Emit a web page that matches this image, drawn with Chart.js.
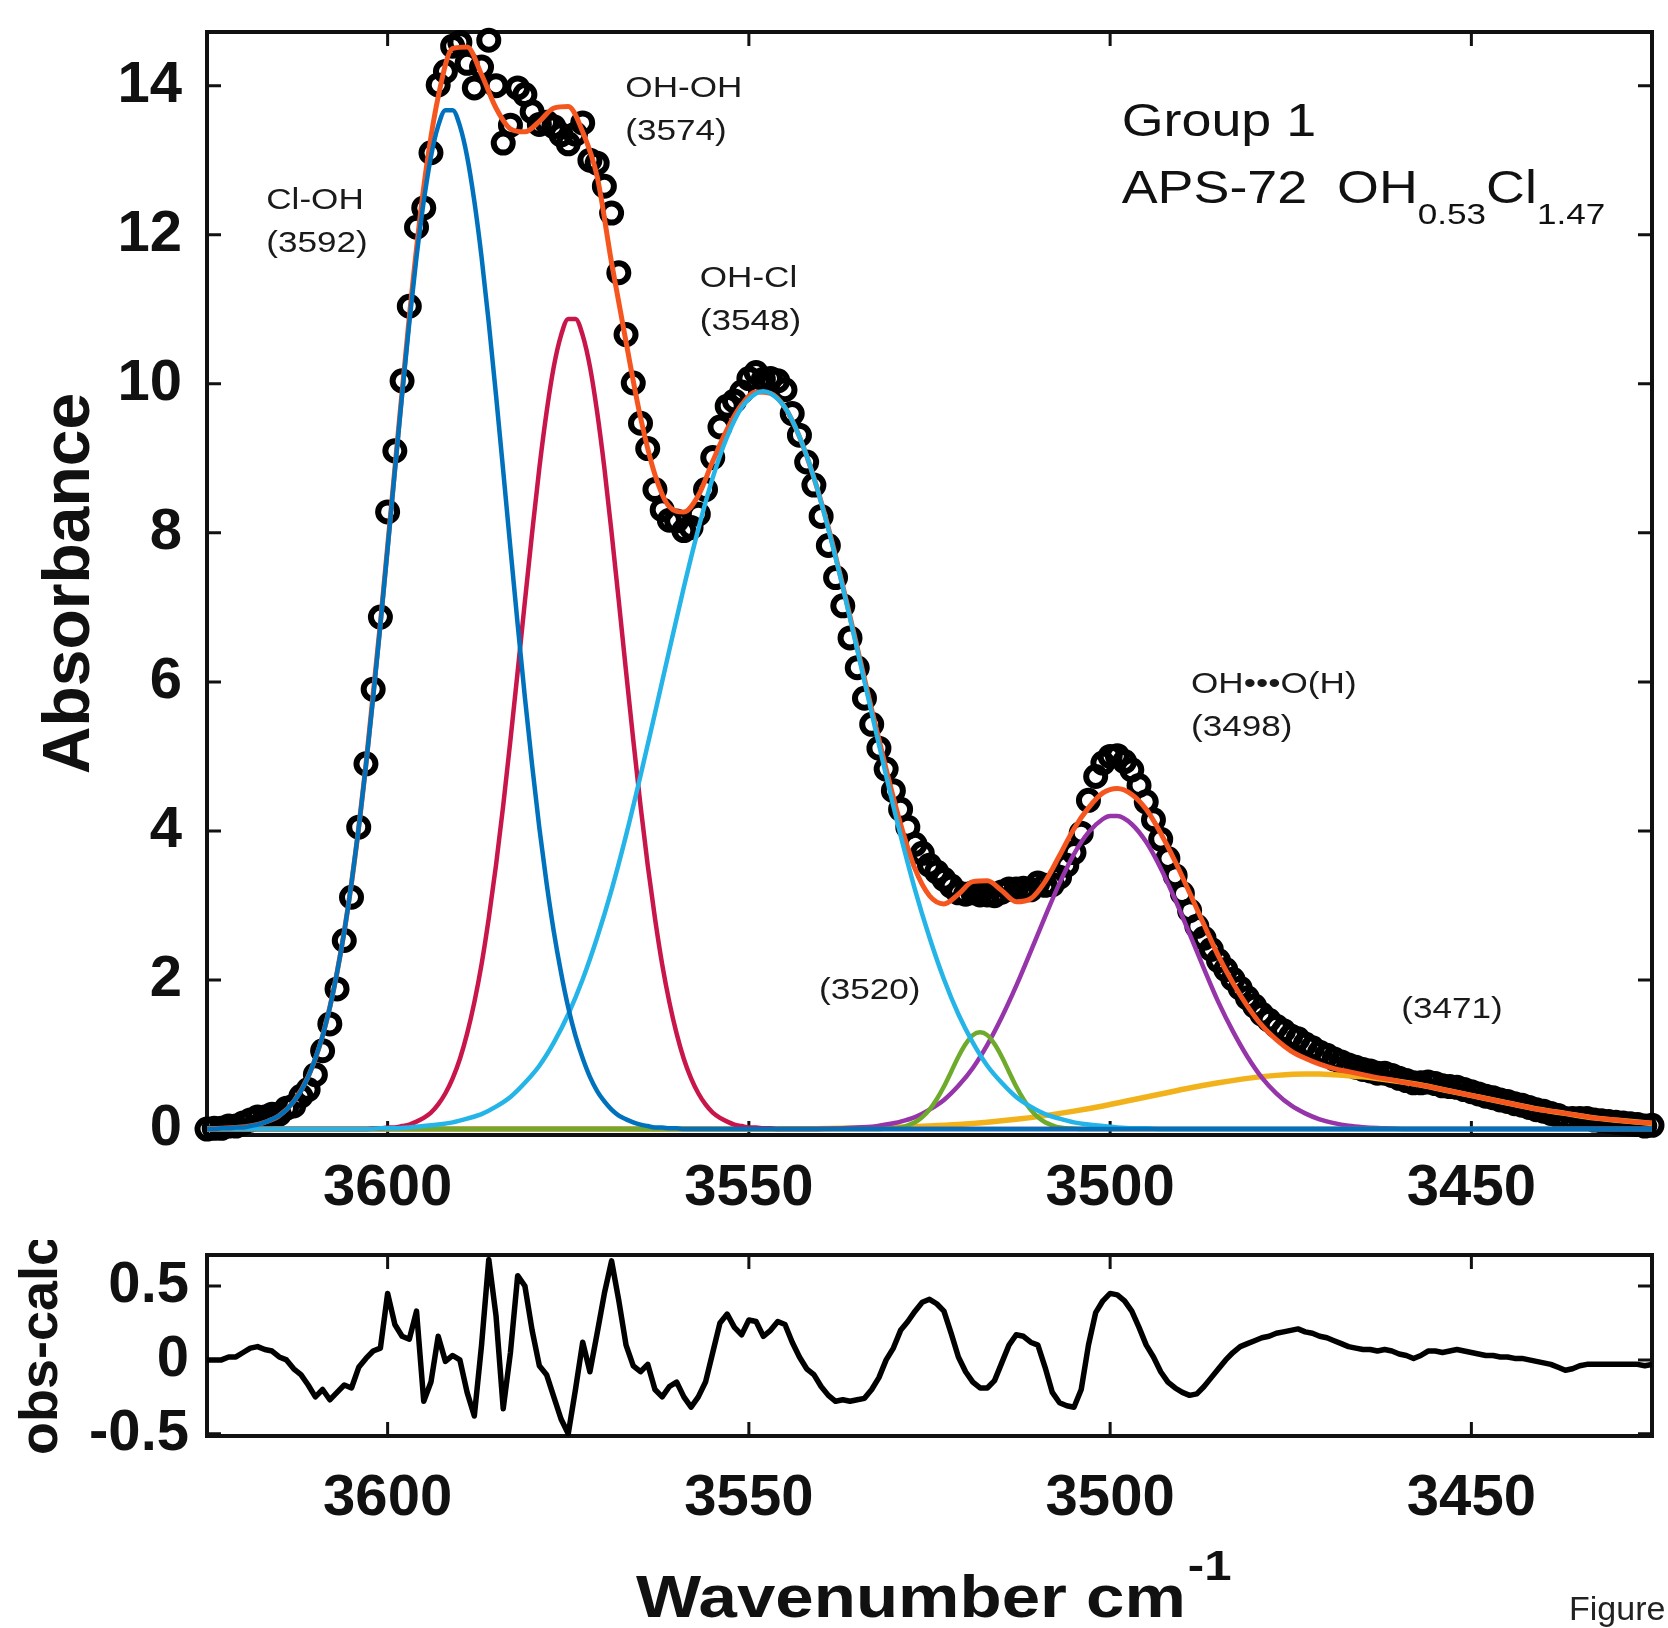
<!DOCTYPE html>
<html>
<head>
<meta charset="utf-8">
<script src="https://cdn.jsdelivr.net/npm/chart.js@4.4.1/dist/chart.umd.min.js"></script>
<style>
html,body{margin:0;padding:0;background:#fff;}
#wrap{position:relative;width:1668px;height:1628px;overflow:hidden;background:#fff;}
#main{position:absolute;left:0;top:0;}
#resid{position:absolute;left:0;top:1240px;}
</style>
</head>
<body>
<div id="wrap">
<canvas id="main" width="1668" height="1240"></canvas>
<canvas id="resid" width="1668" height="388"></canvas>
</div>
<script>
// ---------------- DATA ----------------
// observed spectrum grid (cm-1)
const wavenumber = [
3625,3624,3623,3622,3621,3620,3619,3618,3617,3616,
3615,3614,3613,3612,3611,3610,3609,3608,3607,3606,
3605,3604,3603,3602,3601,3600,3599,3598,3597,3596,
3595,3594,3593,3592,3591,3590,3589,3588,3587,3586,
3585,3584,3583,3582,3581,3580,3579,3578,3577,3576,
3575,3574,3573,3572,3571,3570,3569,3568,3567,3566,
3565,3564,3563,3562,3561,3560,3559,3558,3557,3556,
3555,3554,3553,3552,3551,3550,3549,3548,3547,3546,
3545,3544,3543,3542,3541,3540,3539,3538,3537,3536,
3535,3534,3533,3532,3531,3530,3529,3528,3527,3526,
3525,3524,3523,3522,3521,3520,3519,3518,3517,3516,
3515,3514,3513,3512,3511,3510,3509,3508,3507,3506,
3505,3504,3503,3502,3501,3500,3499,3498,3497,3496,
3495,3494,3493,3492,3491,3490,3489,3488,3487,3486,
3485,3484,3483,3482,3481,3480,3479,3478,3477,3476,
3475,3474,3473,3472,3471,3470,3469,3468,3467,3466,
3465,3464,3463,3462,3461,3460,3459,3458,3457,3456,
3455,3454,3453,3452,3451,3450,3449,3448,3447,3446,
3445,3444,3443,3442,3441,3440,3439,3438,3437,3436,
3435,3434,3433,3432,3431,3430,3429,3428,3427,3426,
3425];

// observed absorbance (open circles)
const observed = [
0.00,0.01,0.01,0.04,0.04,0.08,0.12,0.16,0.16,0.20,
0.20,0.28,0.31,0.44,0.53,0.73,1.05,1.41,1.88,2.53,
3.11,4.05,4.90,5.90,6.87,8.28,9.10,10.04,11.04,12.10,
12.36,13.10,14.01,14.19,14.53,14.58,14.30,13.97,14.25,14.61,
14.00,13.23,13.47,13.97,13.88,13.65,13.48,13.51,13.45,13.34,
13.22,13.35,13.50,13.00,12.96,12.65,12.29,11.49,10.66,10.01,
9.47,9.13,8.58,8.31,8.17,8.16,8.03,8.07,8.25,8.58,
9.01,9.42,9.70,9.77,9.89,10.07,10.15,10.06,10.07,10.04,
9.92,9.60,9.31,8.95,8.64,8.22,7.83,7.40,7.02,6.59,
6.19,5.78,5.43,5.11,4.83,4.54,4.29,4.05,3.82,3.70,
3.54,3.45,3.35,3.26,3.17,3.15,3.17,3.14,3.14,3.13,
3.18,3.22,3.22,3.23,3.21,3.30,3.27,3.28,3.38,3.54,
3.71,3.97,4.41,4.73,4.91,5.00,5.01,4.93,4.82,4.61,
4.39,4.15,3.89,3.63,3.40,3.16,2.93,2.72,2.56,2.41,
2.26,2.14,2.01,1.89,1.76,1.65,1.54,1.46,1.38,1.32,
1.25,1.21,1.14,1.09,1.03,0.99,0.94,0.90,0.86,0.83,
0.80,0.78,0.75,0.75,0.72,0.68,0.65,0.62,0.62,0.63,
0.61,0.58,0.57,0.56,0.53,0.50,0.47,0.44,0.42,0.39,
0.37,0.34,0.32,0.29,0.26,0.24,0.21,0.18,0.14,0.14,
0.14,0.14,0.12,0.11,0.10,0.09,0.08,0.07,0.06,0.04,
0.05];

// obs - calc
const residual = [
0.00,0.00,0.00,0.02,0.02,0.05,0.08,0.09,0.07,0.06,
0.02,0.00,-0.06,-0.10,-0.17,-0.25,-0.20,-0.27,-0.22,-0.17,
-0.19,-0.05,0.01,0.06,0.08,0.45,0.24,0.16,0.14,0.33,
-0.28,-0.15,0.16,-0.01,0.03,0.00,-0.22,-0.38,0.10,0.68,
0.30,-0.33,0.05,0.57,0.50,0.20,-0.04,-0.10,-0.25,-0.40,
-0.50,-0.20,0.12,-0.08,0.18,0.45,0.67,0.40,0.10,-0.04,
-0.08,-0.03,-0.20,-0.25,-0.18,-0.15,-0.25,-0.32,-0.25,-0.15,
0.05,0.25,0.31,0.22,0.17,0.27,0.26,0.16,0.20,0.26,
0.24,0.12,0.02,-0.06,-0.10,-0.18,-0.24,-0.28,-0.27,-0.28,
-0.27,-0.26,-0.20,-0.12,0.00,0.08,0.20,0.26,0.33,0.39,
0.41,0.38,0.33,0.18,0.02,-0.08,-0.15,-0.19,-0.19,-0.14,
-0.02,0.10,0.17,0.16,0.12,0.10,-0.05,-0.22,-0.29,-0.31,
-0.32,-0.20,0.10,0.32,0.40,0.45,0.44,0.40,0.33,0.22,
0.10,0.02,-0.08,-0.15,-0.19,-0.22,-0.24,-0.23,-0.18,-0.12,
-0.06,0.00,0.05,0.09,0.11,0.13,0.15,0.16,0.18,0.19,
0.20,0.21,0.19,0.18,0.16,0.15,0.13,0.11,0.09,0.08,
0.07,0.07,0.06,0.07,0.06,0.04,0.03,0.01,0.03,0.06,
0.06,0.05,0.06,0.07,0.06,0.05,0.04,0.03,0.03,0.02,
0.02,0.01,0.01,0.00,-0.01,-0.02,-0.03,-0.05,-0.07,-0.06,
-0.04,-0.03,-0.03,-0.03,-0.03,-0.03,-0.03,-0.03,-0.03,-0.04,
-0.03];

// total fit (sum of bands)
const fitWavenumber = [
3625,3623,3621,3619,3617,3615,3613,3611,3609,3607,
3605,3603,3601,3599,3597,3595,3593,3591,3589,3587,
3585,3583,3581,3579,3577,3575,3573,3571,3569,3567,
3565,3563,3561,3559,3557,3555,3553,3551,3549,3547,
3545,3543,3541,3539,3537,3535,3533,3531,3529,3527,
3525,3523,3521,3519,3517,3515,3513,3511,3509,3507,
3505,3503,3501,3499,3497,3495,3493,3491,3489,3487,
3485,3483,3481,3479,3477,3475,3473,3471,3469,3467,
3465,3463,3461,3459,3457,3455,3453,3451,3449,3447,
3445,3443,3441,3439,3437,3435,3433,3431,3429,3427,
3425];
const fitTotal = [
0.00,0.01,0.02,0.04,0.09,0.18,0.37,0.70,1.25,2.10,
3.30,4.89,6.79,8.86,10.90,12.64,13.85,14.50,14.52,14.15,
13.70,13.42,13.38,13.52,13.70,13.72,13.38,12.78,11.62,10.56,
9.55,8.78,8.35,8.28,8.50,8.96,9.39,9.72,9.89,9.87,
9.68,9.29,8.74,8.07,7.29,6.46,5.63,4.83,4.09,3.49,
3.13,3.02,3.15,3.32,3.33,3.20,3.05,3.09,3.32,3.67,
4.03,4.31,4.51,4.57,4.49,4.29,3.97,3.59,3.17,2.74,
2.32,1.96,1.65,1.39,1.20,1.05,0.95,0.87,0.81,0.77,
0.73,0.69,0.66,0.62,0.59,0.55,0.51,0.47,0.43,0.39,
0.35,0.31,0.27,0.24,0.21,0.18,0.15,0.13,0.11,0.09,
0.08];

// Cl-OH band (3592)
const clOhWn = [
3625,3624,3623,3622,3621,3620,3619,3618,3617,3616,
3615,3614,3613,3612,3611,3610,3609,3608,3607,3606,
3605,3604,3603,3602,3601,3600,3599,3598,3597,3596,
3595,3594,3593,3592,3591,3590,3589,3588,3587,3586,
3585,3584,3583,3582,3581,3580,3579,3578,3577,3576,
3575,3574,3573,3572,3571,3570,3569,3568,3567,3566,
3565,3564,3563,3562,3561,3560,3559,3425];
const clOhAbs = [
0.00,0.00,0.01,0.01,0.02,0.02,0.04,0.06,0.09,0.13,
0.18,0.26,0.37,0.51,0.70,0.95,1.25,1.63,2.10,2.65,
3.30,4.04,4.88,5.79,6.77,7.79,8.83,9.85,10.82,11.70,
12.45,13.05,13.46,13.67,13.67,13.46,13.05,12.45,11.70,10.82,
9.85,8.83,7.79,6.77,5.79,4.88,4.04,3.30,2.65,2.10,
1.63,1.25,0.95,0.70,0.51,0.37,0.26,0.18,0.13,0.09,
0.06,0.04,0.02,0.02,0.01,0.01,0.00,0.00];

// OH-OH band (3574)
const ohOhWn = [3625,
3603,3602,3601,3600,3599,3598,3597,3596,3595,3594,
3593,3592,3591,3590,3589,3588,3587,3586,3585,3584,
3583,3582,3581,3580,3579,3578,3577,3576,3575,3574,
3573,3572,3571,3570,3569,3568,3567,3566,3565,3564,
3563,3562,3561,3560,3559,3558,3557,3556,3555,3554,
3553,3552,3551,3550,3549,3548,3547,3546,3425];
const ohOhAbs = [0.00,
0.00,0.01,0.01,0.02,0.02,0.04,0.06,0.10,0.15,0.22,
0.33,0.48,0.68,0.94,1.28,1.70,2.21,2.83,3.54,4.34,
5.22,6.14,7.08,8.00,8.87,9.62,10.23,10.65,10.87,10.87,
10.65,10.23,9.62,8.87,8.00,7.08,6.14,5.22,4.34,3.54,
2.83,2.21,1.70,1.28,0.94,0.68,0.48,0.33,0.22,0.15,
0.10,0.06,0.04,0.02,0.02,0.01,0.01,0.00,0.00];

// OH-Cl band (3548)
const ohClWn = [3625,
3603,3601,3599,3597,3595,3593,3591,3589,3587,3585,
3583,3581,3579,3577,3575,3573,3571,3569,3567,3565,
3563,3561,3559,3557,3555,3553,3551,3549,3548,3547,
3545,3543,3541,3539,3537,3535,3533,3531,3529,3527,
3525,3523,3521,3519,3517,3515,3513,3511,3509,3507,
3505,3503,3501,3499,3497,3495,3493,3425];
const ohClAbs = [0.00,
0.00,0.01,0.01,0.02,0.04,0.06,0.09,0.14,0.20,0.30,
0.43,0.62,0.85,1.16,1.54,2.01,2.57,3.21,3.94,4.74,
5.58,6.43,7.27,8.05,8.74,9.29,9.68,9.87,9.90,9.87,
9.68,9.29,8.74,8.05,7.27,6.43,5.58,4.74,3.94,3.21,
2.57,2.01,1.54,1.16,0.85,0.62,0.43,0.30,0.20,0.14,
0.09,0.06,0.04,0.02,0.01,0.01,0.00,0.00];

// band (3520)
const b3520Wn = [3625,
3532,3531,3530,3529,3528,3527,3526,3525,3524,3523,
3522,3521,3520,3519,3518,3517,3516,3515,3514,3513,
3512,3511,3510,3509,3508,3507,3506,3505,3504,3425];
const b3520Abs = [0.00,
0.00,0.005,0.01,0.02,0.05,0.09,0.16,0.26,0.40,0.57,
0.77,0.97,1.14,1.26,1.30,1.26,1.14,0.97,0.77,0.57,
0.40,0.26,0.16,0.09,0.05,0.02,0.01,0.005,0.00,0.00];

// OH...O(H) band (3498)
const ohOWn = [3625,
3541,3539,3537,3535,3533,3531,3529,3527,3525,3523,
3521,3519,3517,3515,3513,3511,3509,3507,3505,3503,
3501,3500,3499,3497,3495,3493,3491,3489,3487,3485,
3483,3481,3479,3477,3475,3473,3471,3469,3467,3465,
3463,3461,3459,3425];
const ohOAbs = [0.00,
0.00,0.005,0.01,0.02,0.03,0.06,0.10,0.16,0.26,0.39,
0.58,0.82,1.13,1.50,1.92,2.38,2.85,3.30,3.69,3.98,
4.16,4.20,4.20,4.09,3.85,3.50,3.08,2.62,2.15,1.70,
1.31,0.97,0.69,0.48,0.32,0.21,0.13,0.08,0.045,0.025,
0.013,0.007,0.00,0.00];

// band (3471)
const b3471Wn = [3625,
3549,3545,3541,3537,3533,3529,3525,3521,3517,3513,
3509,3505,3501,3497,3493,3489,3485,3481,3477,3473,
3471,3469,3465,3461,3457,3453,3449,3445,3441,3437,
3433,3429,3425];
const b3471Abs = [0.00,
0.00,0.003,0.005,0.009,0.016,0.026,0.04,0.06,0.09,0.13,
0.18,0.24,0.31,0.39,0.47,0.55,0.62,0.68,0.72,0.74,
0.74,0.73,0.70,0.65,0.59,0.51,0.43,0.35,0.27,0.21,
0.15,0.11,0.075];

// tick labels
const xTickValues = [3600, 3550, 3500, 3450];
const absTickValues = [0, 2, 4, 6, 8, 10, 12, 14];
const residTickValues = [-0.5, 0, 0.5];

// ---------------- STYLE / LAYOUT ----------------
const FONT = '"Liberation Sans", Arial, Helvetica, sans-serif';
const INK = '#111111';
const TEXT_SX = 1.17;

const peakLabels = [
  { lines: ['Cl-OH', '(3592)'], w: 3616.8, a: 12.34 },
  { lines: ['OH-OH', '(3574)'], w: 3567.1, a: 13.85 },
  { lines: ['OH-Cl', '(3548)'], w: 3556.8, a: 11.30 },
  { lines: ['(3520)'], w: 3540.3, a: 1.745 },
  { lines: ['OH\u2022\u2022\u2022O(H)', '(3498)'], w: 3488.8, a: 5.85 },
  { lines: ['(3471)'], w: 3459.7, a: 1.49 }
];

function stretchText(ctx, text, x, y, font, sx) {
  ctx.save();
  ctx.font = font;
  ctx.textAlign = 'left';
  ctx.textBaseline = 'alphabetic';
  ctx.translate(x, y);
  ctx.scale(sx, 1);
  ctx.fillText(text, 0, 0);
  const w = ctx.measureText(text).width * sx;
  ctx.restore();
  return w;
}

const toXY = (xs, ys) => xs.map((x, i) => ({ x: x, y: ys[i] }));

function lineDs(label, xs, ys, color, order, width) {
  return {
    label: label, data: toXY(xs, ys),
    borderColor: color, backgroundColor: color,
    borderWidth: width || 4.5, pointRadius: 0, pointHoverRadius: 0,
    cubicInterpolationMode: 'monotone', fill: false, order: order
  };
}

const framePlugin = {
  id: 'frame',
  beforeDatasetsDraw(chart, args, opts) {
    const ctx = chart.ctx, a = chart.chartArea;
    const xs = chart.scales.x, ys = chart.scales.y;
    ctx.save();
    ctx.strokeStyle = INK;
    ctx.lineWidth = opts.lineWidth;
    ctx.beginPath();
    xs.ticks.forEach(t => {
      const p = xs.getPixelForValue(t.value);
      ctx.moveTo(p, a.top); ctx.lineTo(p, a.top + opts.tickLength);
      ctx.moveTo(p, a.bottom); ctx.lineTo(p, a.bottom - opts.tickLength);
    });
    ys.ticks.forEach(t => {
      const p = ys.getPixelForValue(t.value);
      ctx.moveTo(a.left, p); ctx.lineTo(a.left + opts.tickLength, p);
      ctx.moveTo(a.right, p); ctx.lineTo(a.right - opts.tickLength, p);
    });
    ctx.stroke();
    ctx.lineWidth = opts.frameWidth;
    ctx.strokeRect(a.left, a.top, a.right - a.left, a.bottom - a.top);
    ctx.restore();
  }
};

const mainTextPlugin = {
  id: 'mainText',
  afterDatasetsDraw(chart) {
    const ctx = chart.ctx;
    const xs = chart.scales.x, ys = chart.scales.y;
    ctx.save();
    ctx.fillStyle = '#1a1a1a';
    peakLabels.forEach(l => {
      const px = xs.getPixelForValue(l.w), py = ys.getPixelForValue(l.a);
      l.lines.forEach((t, i) => stretchText(ctx, t, px, py + i * 43, '30px ' + FONT, TEXT_SX));
    });
    // sample block
    const bx = xs.getPixelForValue(3498.4);
    const by1 = ys.getPixelForValue(13.33), by2 = ys.getPixelForValue(12.42);
    ctx.fillStyle = '#111';
    stretchText(ctx, 'Group 1', bx, by1, '46px ' + FONT, TEXT_SX);
    let x = bx;
    x += stretchText(ctx, 'APS-72  ', x, by2, '46px ' + FONT, TEXT_SX);
    x += stretchText(ctx, 'OH', x, by2, '46px ' + FONT, TEXT_SX);
    x += stretchText(ctx, '0.53', x, by2 + 21, '30px ' + FONT, TEXT_SX);
    x += stretchText(ctx, 'Cl', x, by2, '46px ' + FONT, TEXT_SX);
    stretchText(ctx, '1.47', x, by2 + 21, '30px ' + FONT, TEXT_SX);
    ctx.restore();
  }
};

const lowerTextPlugin = {
  id: 'lowerText',
  afterDraw(chart) {
    const ctx = chart.ctx;
    ctx.save();
    ctx.fillStyle = INK;
    const w1 = stretchText(ctx, 'Wavenumber cm', 636, 377, 'bold 59px ' + FONT, TEXT_SX);
    stretchText(ctx, '-1', 636 + w1 + 2, 340, 'bold 42px ' + FONT, TEXT_SX);
    ctx.fillStyle = '#222';
    stretchText(ctx, 'Figure', 1569, 380, '34px ' + FONT, 1.0);
    ctx.restore();
  }
};

function xScale(pad, h) {
  return {
    type: 'linear', position: 'bottom', reverse: true, min: 3425, max: 3625,
    afterBuildTicks: s => { s.ticks = xTickValues.map(v => ({ value: v })); },
    afterFit: s => { s.height = h; s.paddingLeft = 0; s.paddingRight = 0; },
    ticks: {
      callback: v => String(v),
      font: { family: FONT, size: 58, weight: 'bold' }, color: INK,
      padding: pad, maxRotation: 0, minRotation: 0, autoSkip: false
    },
    grid: { display: false }, border: { display: false }
  };
}

// ---------------- MAIN CHART ----------------
new Chart(document.getElementById('main'), {
  type: 'line',
  data: {
    datasets: [
      {
        label: 'Observed', data: toXY(wavenumber, observed), showLine: false,
        pointStyle: 'circle', pointRadius: 9.5, pointBorderWidth: 6,
        pointBorderColor: '#000', pointBackgroundColor: 'rgba(0,0,0,0)',
        borderColor: '#000', order: 10, clip: false
      },
      lineDs('(3471)', b3471Wn, b3471Abs, '#F2B21B', 9, 5.5),
      lineDs('OH···O(H) (3498)', ohOWn, ohOAbs, '#9634AA', 8),
      lineDs('(3520)', b3520Wn, b3520Abs, '#6EAA2C', 7),
      lineDs('OH-OH (3574)', ohOhWn, ohOhAbs, '#C8164A', 6),
      lineDs('Total fit', fitWavenumber, fitTotal, '#F5561F', 5, 5),
      lineDs('OH-Cl (3548)', ohClWn, ohClAbs, '#25B4E8', 3),
      lineDs('Cl-OH (3592)', clOhWn, clOhAbs, '#0072BD', 2)
    ]
  },
  options: {
    responsive: false, animation: false, devicePixelRatio: 1, events: [],
    layout: { padding: { top: 32, right: 16, bottom: 0, left: 0 } },
    plugins: {
      legend: { display: false }, tooltip: { enabled: false },
      frame: { frameWidth: 4, lineWidth: 3, tickLength: 14 }
    },
    scales: {
      x: xScale(11, 105),
      y: {
        type: 'linear', min: -0.08, max: 14.72,
        afterBuildTicks: s => { s.ticks = absTickValues.map(v => ({ value: v })); },
        afterFit: s => { s.width = 207; s.paddingTop = 0; s.paddingBottom = 0; },
        ticks: { font: { family: FONT, size: 58, weight: 'bold' }, color: INK, padding: 17 },
        grid: { display: false }, border: { display: false },
        title: {
          display: true, text: 'Absorbance', color: INK,
          font: { family: FONT, size: 66, weight: 'bold' }, padding: { top: 31, bottom: 0 }
        }
      }
    }
  },
  plugins: [framePlugin, mainTextPlugin]
});

// ---------------- RESIDUAL CHART ----------------
new Chart(document.getElementById('resid'), {
  type: 'line',
  data: {
    datasets: [
      {
        label: 'obs-calc', data: toXY(wavenumber, residual),
        borderColor: '#000', borderWidth: 5.5, pointRadius: 0, pointHoverRadius: 0,
        tension: 0, fill: false, borderJoinStyle: 'round'
      }
    ]
  },
  options: {
    responsive: false, animation: false, devicePixelRatio: 1, events: [],
    layout: { padding: { top: 15, right: 16, bottom: 0, left: 0 } },
    plugins: {
      legend: { display: false }, tooltip: { enabled: false },
      frame: { frameWidth: 4, lineWidth: 3, tickLength: 14 }
    },
    scales: {
      x: xScale(20, 192),
      y: {
        type: 'linear', min: -0.515, max: 0.71,
        afterBuildTicks: s => { s.ticks = residTickValues.map(v => ({ value: v })); },
        afterFit: s => { s.width = 207; s.paddingTop = 0; s.paddingBottom = 0; },
        ticks: { font: { family: FONT, size: 58, weight: 'bold' }, color: INK, padding: 10 },
        grid: { display: false }, border: { display: false },
        title: {
          display: true, text: 'obs-calc', color: INK,
          font: { family: FONT, size: 54, weight: 'bold' }, padding: { top: 10, bottom: 0 }
        }
      }
    }
  },
  plugins: [framePlugin, lowerTextPlugin]
});
</script>
</body>
</html>
